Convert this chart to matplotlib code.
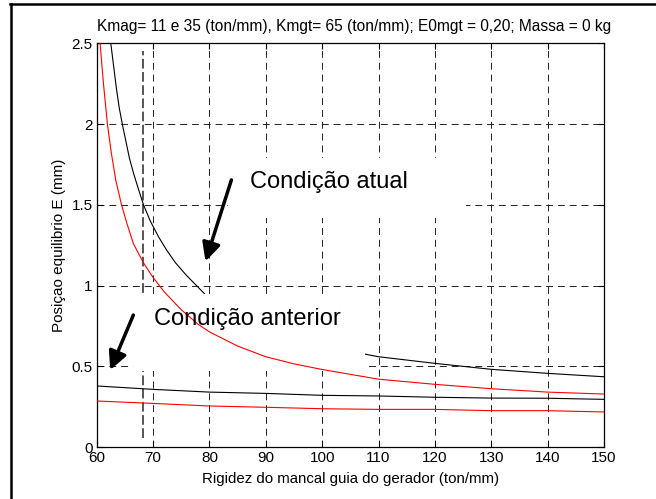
import matplotlib
matplotlib.use("Agg")
import matplotlib.pyplot as plt
from matplotlib.lines import Line2D
from matplotlib.patches import Rectangle

plt.rcParams['font.family'] = ['Liberation Sans', 'DejaVu Sans']
plt.rcParams['lines.scale_dashes'] = False

# curva superior preta (Kmag = 11), dois trechos visiveis
preta_sup_x1 = [62.5, 63.0, 63.5, 64.0, 64.6, 65.2, 65.8, 66.5, 67.2, 68.3, 69.5,
                71.0, 72.4, 74.0, 76.0, 77.7, 79.1]
preta_sup_y1 = [2.5, 2.36, 2.22, 2.1, 1.99, 1.89, 1.79, 1.70, 1.62, 1.50, 1.40,
                1.30, 1.22, 1.14, 1.06, 1.0, 0.95]
preta_sup_x2 = [107.6, 110, 120, 130, 140, 150]
preta_sup_y2 = [0.575, 0.559, 0.518, 0.481, 0.456, 0.435]

# curva superior vermelha
verm_sup_x = [60.6, 61.2, 61.9, 62.6, 63.4, 64.4, 65.4, 66.5, 68.3, 70, 72, 75, 78,
              80, 85, 90, 95, 100, 110, 120, 130, 140, 150]
verm_sup_y = [2.5, 2.25, 2.0, 1.82, 1.65, 1.5, 1.38, 1.26, 1.14, 1.05, 0.96, 0.85,
              0.76, 0.713, 0.625, 0.559, 0.515, 0.48, 0.42, 0.388, 0.361, 0.34, 0.328]

# curvas inferiores (Kmag = 35)
inf_x = [60, 70, 80, 90, 100, 110, 120, 130, 140, 150]
preta_inf_y = [0.378, 0.357, 0.34, 0.332, 0.32, 0.316, 0.308, 0.303, 0.302, 0.295]
verm_inf_y = [0.285, 0.27, 0.254, 0.246, 0.237, 0.233, 0.233, 0.225, 0.225, 0.217]

# linha vertical tracejada (rigidez atual)
marca_x = 68.2
marca_y = [0.056, 2.45]

titulo = "Kmag= 11 e 35 (ton/mm), Kmgt= 65 (ton/mm); E0mgt = 0,20; Massa = 0 kg"

fig = plt.figure(figsize=(6.56, 4.99), dpi=100)
ax = fig.add_axes([0.1474, 0.1042, 0.7733, 0.809])

ax.plot(preta_sup_x1, preta_sup_y1, color='k', lw=0.8, zorder=2)
ax.plot(preta_sup_x2, preta_sup_y2, color='k', lw=0.8, zorder=2)
ax.plot(inf_x, preta_inf_y, color='k', lw=0.8, zorder=2)
ax.plot(verm_sup_x, verm_sup_y, color='r', lw=0.8, zorder=4)
ax.plot(inf_x, verm_inf_y, color='r', lw=0.8, zorder=4)
ax.plot([marca_x, marca_x], marca_y, color='#555555', lw=1.4,
        linestyle=(0, (7, 2.5)), zorder=1.5)

# caixas brancas das legendas
ax.add_patch(Rectangle((66.5, 0.47), 41.1, 0.475, facecolor='white',
                       edgecolor='none', zorder=3))
ax.add_patch(Rectangle((83.3, 1.42), 42.2, 0.37, facecolor='white',
                       edgecolor='none', zorder=3))

ax.text(87.2, 1.603, 'Condição atual', fontsize=17, va='baseline', zorder=5)
ax.text(70.2, 0.755, 'Condição anterior', fontsize=17, va='baseline', zorder=5)
seta = dict(arrowstyle='-|>,head_length=0.5,head_width=0.25', lw=2.5, color='k',
            mutation_scale=22, shrinkA=0, shrinkB=0)
ax.annotate('', xy=(79.3, 1.15), xytext=(83.9, 1.654), arrowprops=seta, zorder=5)
ax.annotate('', xy=(62.4, 0.477), xytext=(66.5, 0.817), arrowprops=seta, zorder=5)

ax.set_xlim(60, 150)
ax.set_ylim(0, 2.5)
ax.set_xticks(range(60, 151, 10))
ax.set_yticks([0, 0.5, 1, 1.5, 2, 2.5])
ax.set_yticklabels(['0', '0.5', '1', '1.5', '2', '2.5'])
ax.grid(True, color='#222222', lw=0.7, linestyle=(0, (5, 3.5)), zorder=1)
ax.set_axisbelow(True)
ax.tick_params(direction='in', top=True, right=True, length=4, labelsize=11, pad=3)
for s in ax.spines.values():
    s.set_linewidth(0.9)

fig.text(0.539, 1 - 30.5 / 499, titulo, fontsize=11.2, ha='center', va='baseline')
ax.set_xlabel('Rigidez do mancal guia do gerador (ton/mm)', fontsize=10.8, labelpad=5)
ax.set_ylabel('Posiçao equilibrio E (mm)', fontsize=11, labelpad=4)

# moldura da figura
fig.add_artist(Line2D([10.5 / 656, 10.5 / 656], [0, 1 - 3.5 / 499], color='k', lw=1.8))
fig.add_artist(Line2D([10 / 656, 1], [1 - 3.5 / 499, 1 - 3.5 / 499], color='k', lw=1.8))

fig.savefig('out.png', dpi=100)
